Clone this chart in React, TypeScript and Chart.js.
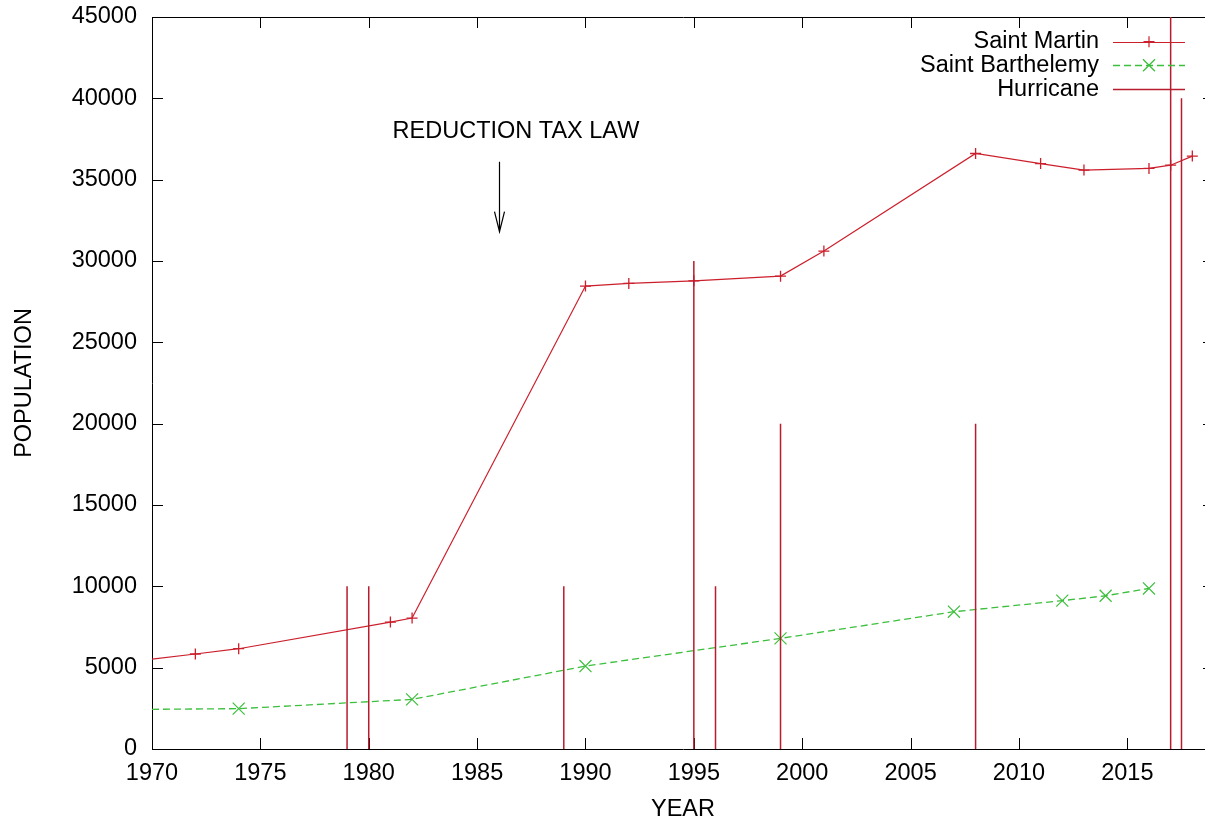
import React, { useEffect, useRef } from "react";
import { Chart, registerables } from "chart.js";

Chart.register(...registerables);

// ---- data ----
const martinYears = [1970, 1972, 1974, 1981, 1982, 1990, 1992, 1995, 1999, 2001, 2008, 2011, 2013, 2016, 2017, 2018];
const martinPop = [5530, 5840, 6165, 7805, 8050, 28460, 28620, 28780, 29070, 30610, 36610, 35990, 35590, 35690, 35890, 36450];
const barthYears = [1970, 1974, 1982, 1990, 1999, 2007, 2012, 2014, 2016];
const barthPop = [2440, 2480, 3050, 5100, 6800, 8440, 9120, 9420, 9870];
const hurricaneYears = [1979, 1980, 1989, 1995, 1996, 1999, 2008, 2017, 2017.5];
const hurricaneHeights = [10000, 10000, 10000, 30000, 10000, 20000, 20000, 45000, 40000];
const xTicks = [1970, 1975, 1980, 1985, 1990, 1995, 2000, 2005, 2010, 2015];
const yTicks = [0, 5000, 10000, 15000, 20000, 25000, 30000, 35000, 40000, 45000];
const seriesLabels = ["Saint Martin", "Saint Barthelemy", "Hurricane"];
const annotationText = "REDUCTION TAX LAW";
const annotationAt = [1981.1, 37950];
const arrowFrom = [1986, 36100];
const arrowTo = [1986, 31800];

const FONT = "Liberation Sans, Arial, Helvetica, sans-serif";
const FS = 23.5;
const RED = "#cc1f2c";
const HUR = "#b81c2e";
const GREEN = "#3cbf3c";

const framePlugin = {
  id: "frame",
  beforeDatasetsDraw(chart: any) {
    const { ctx, chartArea: a, scales } = chart;
    ctx.save();
    ctx.strokeStyle = "#000";
    ctx.lineWidth = 1;
    ctx.beginPath();
    ctx.rect(Math.round(a.left) + 0.5, Math.round(a.top) + 0.5, Math.round(a.right - a.left), Math.round(a.bottom - a.top));
    const T = 11;
    for (const v of xTicks) {
      const px = Math.round(scales.x.getPixelForValue(v)) + 0.5;
      ctx.moveTo(px, a.bottom);
      ctx.lineTo(px, a.bottom - T);
      ctx.moveTo(px, a.top);
      ctx.lineTo(px, a.top + T);
    }
    for (const v of yTicks) {
      const py = Math.round(scales.y.getPixelForValue(v)) + 0.5;
      ctx.moveTo(a.left, py);
      ctx.lineTo(a.left + T, py);
      ctx.moveTo(a.right, py);
      ctx.lineTo(a.right - T, py);
    }
    ctx.stroke();
    ctx.restore();
  },
};

const overlayPlugin = {
  id: "overlay",
  afterDatasetsDraw(chart: any) {
    const { ctx, scales } = chart;
    const x = scales.x;
    const y = scales.y;
    ctx.save();
    // annotation text
    ctx.fillStyle = "#000";
    ctx.font = `${FS}px ${FONT}`;
    ctx.textAlign = "left";
    ctx.textBaseline = "middle";
    ctx.fillText(annotationText, x.getPixelForValue(annotationAt[0]), y.getPixelForValue(annotationAt[1]));
    // arrow
    const ax = Math.round(x.getPixelForValue(arrowFrom[0])) + 0.5;
    const ay1 = y.getPixelForValue(arrowFrom[1]);
    const ay2 = y.getPixelForValue(arrowTo[1]);
    ctx.strokeStyle = "#000";
    ctx.lineWidth = 1.2;
    ctx.beginPath();
    ctx.moveTo(ax, ay1);
    ctx.lineTo(ax, ay2);
    ctx.moveTo(ax - 5, ay2 - 20);
    ctx.lineTo(ax, ay2);
    ctx.lineTo(ax + 5, ay2 - 20);
    ctx.stroke();

    // legend (gnuplot style: right-aligned text, sample to the right)
    const ds = chart.data.datasets;
    const textRight = 1099;
    const s0 = 1113;
    const s1 = 1185;
    const rows = [41.7, 65.2, 89.3];
    for (let i = 0; i < 3; i++) {
      const d = ds[i];
      const ry = rows[i];
      ctx.fillStyle = "#000";
      ctx.textAlign = "right";
      ctx.textBaseline = "middle";
      ctx.fillText(d.label, textRight, ry);
      ctx.strokeStyle = d.borderColor;
      ctx.lineWidth = d.borderWidth;
      ctx.setLineDash(d.borderDash || []);
      ctx.beginPath();
      ctx.moveTo(s0, Math.round(ry) + 0.5);
      ctx.lineTo(s1, Math.round(ry) + 0.5);
      ctx.stroke();
      ctx.setLineDash([]);
      const mx = (s0 + s1) / 2;
      if (i === 0) {
        ctx.beginPath();
        ctx.moveTo(mx - 5.5, ry);
        ctx.lineTo(mx + 5.5, ry);
        ctx.moveTo(mx, ry - 5.5);
        ctx.lineTo(mx, ry + 5.5);
        ctx.stroke();
      } else if (i === 1) {
        ctx.beginPath();
        ctx.moveTo(mx - 6, ry - 6);
        ctx.lineTo(mx + 6, ry + 6);
        ctx.moveTo(mx - 6, ry + 6);
        ctx.lineTo(mx + 6, ry - 6);
        ctx.stroke();
      }
    }
    ctx.restore();
  },
};

export default function App() {
  const ref = useRef<HTMLCanvasElement | null>(null);

  useEffect(() => {
    if (!ref.current) return;
    const martin = martinYears.map((yr, i) => ({ x: yr, y: martinPop[i] }));
    const barth = barthYears.map((yr, i) => ({ x: yr, y: barthPop[i] }));
    const hur: any[] = [];
    hurricaneYears.forEach((yr, i) => {
      hur.push({ x: yr, y: 0 });
      hur.push({ x: yr, y: hurricaneHeights[i] });
      hur.push({ x: yr, y: null });
    });

    const chart = new Chart(ref.current, {
      type: "line",
      data: {
        datasets: [
          {
            label: seriesLabels[0],
            data: martin,
            borderColor: RED,
            backgroundColor: RED,
            borderWidth: 1.2,
            pointStyle: "cross",
            pointRadius: (c: any) => (c.dataIndex === 0 ? 0 : 5.5),
            pointBorderWidth: 1.3,
            pointBorderColor: RED,
            tension: 0,
            order: 1,
          },
          {
            label: seriesLabels[1],
            data: barth,
            borderColor: GREEN,
            backgroundColor: GREEN,
            borderWidth: 1.3,
            borderDash: [7, 4],
            pointStyle: "crossRot",
            pointRadius: (c: any) => (c.dataIndex === 0 ? 0 : 8.5),
            pointBorderWidth: 1.2,
            pointBorderColor: GREEN,
            tension: 0,
            order: 2,
          },
          {
            label: seriesLabels[2],
            data: hur,
            borderColor: HUR,
            backgroundColor: HUR,
            borderWidth: 1.5,
            pointRadius: 0,
            spanGaps: false,
            order: 0,
          },
        ] as any,
      },
      options: {
        animation: false,
        responsive: false,
        maintainAspectRatio: false,
        events: [],
        layout: { padding: { top: 17, right: 26, bottom: 0, left: 0 } },
        plugins: {
          legend: { display: false },
          tooltip: { enabled: false },
          title: { display: false },
        },
        scales: {
          x: {
            type: "linear",
            min: 1970,
            max: 2019,
            grid: { display: false, drawTicks: false },
            border: { display: false },
            afterBuildTicks: (s: any) => {
              s.ticks = xTicks.map((v) => ({ value: v }));
            },
            afterFit: (s: any) => {
              s.height = 72;
              s.paddingLeft = 0;
              s.paddingRight = 0;
            },
            ticks: {
              color: "#000",
              padding: 10,
              maxRotation: 0,
              autoSkip: false,
              font: { family: FONT, size: FS },
              callback: (v: any) => String(v),
            },
            title: {
              display: true,
              text: "YEAR",
              color: "#000",
              font: { family: FONT, size: FS, lineHeight: 1 },
              padding: { top: 0, bottom: 0 },
            },
          },
          y: {
            type: "linear",
            min: 0,
            max: 45000,
            grid: { display: false, drawTicks: false },
            border: { display: false },
            afterBuildTicks: (s: any) => {
              s.ticks = yTicks.map((v) => ({ value: v }));
            },
            afterFit: (s: any) => {
              s.width = 152;
              s.paddingTop = 0;
              s.paddingBottom = 0;
            },
            ticks: {
              color: "#000",
              padding: 15,
              autoSkip: false,
              font: { family: FONT, size: FS },
              callback: (v: any) => String(v),
            },
            title: {
              display: true,
              text: "POPULATION",
              color: "#000",
              font: { family: FONT, size: FS, lineHeight: 1 },
              padding: { top: 13, bottom: 0 },
            },
          },
        },
      } as any,
      plugins: [framePlugin, overlayPlugin],
    });
    return () => chart.destroy();
  }, []);

  return (
    <div
      style={{
        position: "fixed",
        left: 0,
        top: 0,
        width: 1205,
        height: 821,
        overflow: "hidden",
        background: "#fff",
      }}
    >
      <canvas ref={ref} width={1240} height={821} style={{ width: 1240, height: 821, display: "block" }} />
    </div>
  );
}
